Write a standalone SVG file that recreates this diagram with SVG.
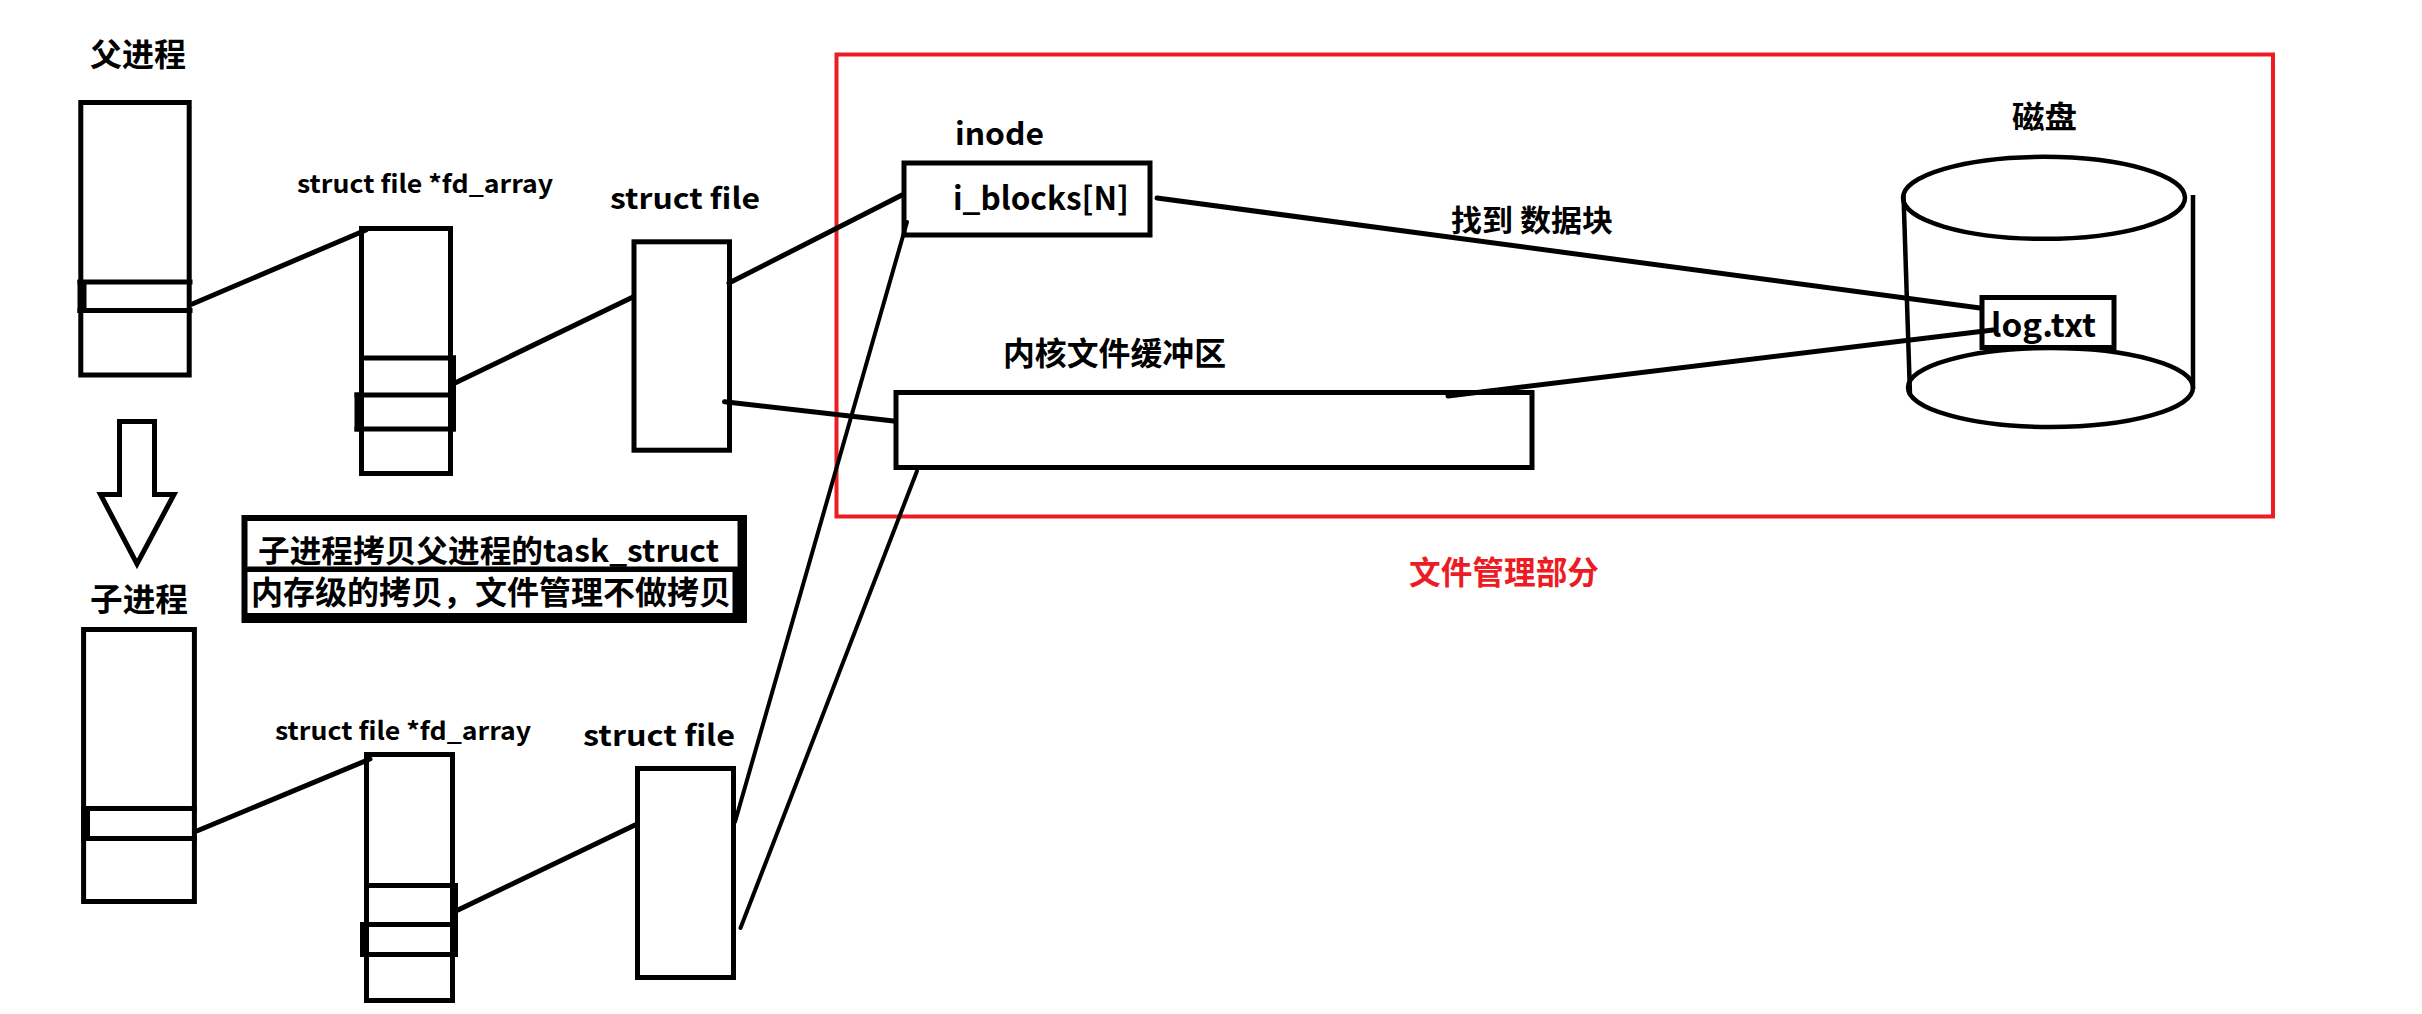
<svg xmlns="http://www.w3.org/2000/svg" width="2422" height="1014" viewBox="0 0 2422 1014">
<style>
.box{fill:none;stroke:#000;stroke-width:5}
.bar{fill:#000;stroke:none}
.t{font-family:"Noto Sans CJK SC","Liberation Sans",sans-serif;font-weight:bold;fill:#000}
.red{fill:#ED1C24}
.ln{stroke:#000;stroke-width:5;fill:none;stroke-linecap:round}
.ln2{stroke:#000;stroke-width:4;fill:none;stroke-linecap:round}
</style>
<rect width="2422" height="1014" fill="#fff"/>

<g id="file-management">
<rect x="836.5" y="54.5" width="1436.5" height="462" fill="none" stroke="#ED1C24" stroke-width="4"/>
<text class="t red" x="1409" y="584" font-size="32" textLength="190" lengthAdjust="spacingAndGlyphs">文件管理部分</text>
</g>

<g id="parent-process">
<text class="t" x="90" y="66" font-size="32" textLength="96" lengthAdjust="spacingAndGlyphs">父进程</text>
<rect class="box" x="80.8" y="102.5" width="108.4" height="272.5"/>
<rect class="bar" x="77.5" y="279.5" width="115" height="5"/>
<rect class="bar" x="77.5" y="308" width="115" height="5"/>
<rect class="bar" x="77.5" y="280" width="9" height="33"/>
</g>

<g id="copy-arrow">
<polygon points="119.5,421.5 154.5,421.5 154.5,494.5 174,494.5 137,564 100.5,494.5 119.5,494.5" fill="none" stroke="#000" stroke-width="5" stroke-linejoin="miter"/>
</g>

<g id="caption">
<rect class="bar" x="241.5" y="515" width="505.5" height="108"/>
<rect x="247.5" y="521" width="490" height="46" fill="#fff"/>
<rect x="247.5" y="572" width="485" height="41" fill="#fff"/>
<text class="t" x="258" y="562" font-size="31" textLength="461" lengthAdjust="spacingAndGlyphs">子进程拷贝父进程的task_struct</text>
<rect class="bar" x="247.5" y="566.5" width="490" height="5.5"/>
<text class="t" x="251" y="604" font-size="32" textLength="480" lengthAdjust="spacingAndGlyphs">内存级的拷贝，文件管理不做拷贝</text>
</g>

<g id="child-process">
<text class="t" x="90" y="611" font-size="32" textLength="98" lengthAdjust="spacingAndGlyphs">子进程</text>
<rect class="box" x="83.6" y="629.5" width="110.8" height="272"/>
<rect class="bar" x="81" y="806" width="116" height="5"/>
<rect class="bar" x="81" y="836" width="116" height="5"/>
<rect class="bar" x="81" y="806" width="9" height="35"/>
</g>

<g id="parent-fd-array">
<text class="t" x="297" y="193" font-size="25" textLength="256" lengthAdjust="spacingAndGlyphs">struct file *fd_array</text>
<rect class="box" x="361.5" y="228.5" width="89" height="245"/>
<rect class="bar" x="359" y="355.5" width="97" height="5"/>
<rect class="bar" x="448" y="355.5" width="8" height="76"/>
<rect class="bar" x="354.5" y="392.5" width="101" height="5"/>
<rect class="bar" x="354.5" y="426.5" width="101" height="5"/>
<rect class="bar" x="354.5" y="392.5" width="9" height="39"/>
</g>

<g id="child-fd-array">
<text class="t" x="275" y="739.5" font-size="25" textLength="256" lengthAdjust="spacingAndGlyphs">struct file *fd_array</text>
<rect class="box" x="366.5" y="754.5" width="86" height="246"/>
<rect class="bar" x="364" y="883" width="94" height="5"/>
<rect class="bar" x="451" y="883" width="7" height="74"/>
<rect class="bar" x="360" y="922" width="98" height="5"/>
<rect class="bar" x="360" y="952" width="98" height="5"/>
<rect class="bar" x="360" y="922" width="8" height="35"/>
</g>

<g id="parent-struct-file">
<text class="t" x="610" y="209" font-size="29" textLength="150" lengthAdjust="spacingAndGlyphs">struct file</text>
<rect class="box" x="634" y="241.8" width="95.5" height="208.4"/>
</g>

<g id="child-struct-file">
<text class="t" x="583" y="746" font-size="29" textLength="152" lengthAdjust="spacingAndGlyphs">struct file</text>
<rect class="box" x="637.5" y="768.5" width="96" height="209"/>
</g>

<g id="inode">
<text class="t" x="955" y="145" font-size="31" textLength="89" lengthAdjust="spacingAndGlyphs">inode</text>
<rect class="box" x="904" y="163" width="246" height="72"/>
<text class="t" x="953" y="210" font-size="32" textLength="176" lengthAdjust="spacingAndGlyphs">i_blocks[N]</text>
</g>

<g id="kernel-buffer">
<text class="t" x="1003" y="365" font-size="32" textLength="223" lengthAdjust="spacingAndGlyphs">内核文件缓冲区</text>
<rect class="box" x="896" y="392.5" width="636" height="75"/>
</g>

<g id="disk">
<text class="t" x="2012" y="128" font-size="31" textLength="65" lengthAdjust="spacingAndGlyphs">磁盘</text>
<ellipse cx="2044" cy="197.8" rx="141" ry="41" fill="none" stroke="#000" stroke-width="4.5"/>
<line x1="1903.5" y1="195" x2="1910" y2="395" stroke="#000" stroke-width="4.5"/>
<line x1="2193" y1="195" x2="2193" y2="389" stroke="#000" stroke-width="4.5"/>
<rect x="1982" y="297.5" width="132" height="50" fill="#fff" stroke="#000" stroke-width="5"/>
<ellipse cx="2050.5" cy="387.5" rx="142.5" ry="39.5" fill="none" stroke="#000" stroke-width="4.5"/>
<text class="t" x="1991" y="337" font-size="32" textLength="105" lengthAdjust="spacingAndGlyphs">log.txt</text>
</g>

<g id="find-label">
<text class="t" x="1451" y="231" font-size="30" textLength="162" lengthAdjust="spacingAndGlyphs">找到 数据块</text>
</g>

<g id="connectors">
<line class="ln" x1="192.3" y1="304" x2="366" y2="230"/>
<line class="ln" x1="455" y1="383" x2="633" y2="297"/>
<line class="ln" x1="729" y1="283" x2="902" y2="195"/>
<line class="ln" x1="724.5" y1="401.7" x2="893.5" y2="421"/>
<line class="ln" x1="1157" y1="198" x2="1980" y2="308"/>
<line class="ln" x1="1448" y1="396" x2="1993" y2="330"/>
<line class="ln" x1="197.4" y1="830.7" x2="370" y2="759"/>
<line class="ln" x1="458" y1="910" x2="635" y2="825"/>
<line class="ln2" x1="907" y1="222" x2="735" y2="822"/>
<line class="ln2" x1="917" y1="471" x2="740.5" y2="928"/>
</g>
</svg>
